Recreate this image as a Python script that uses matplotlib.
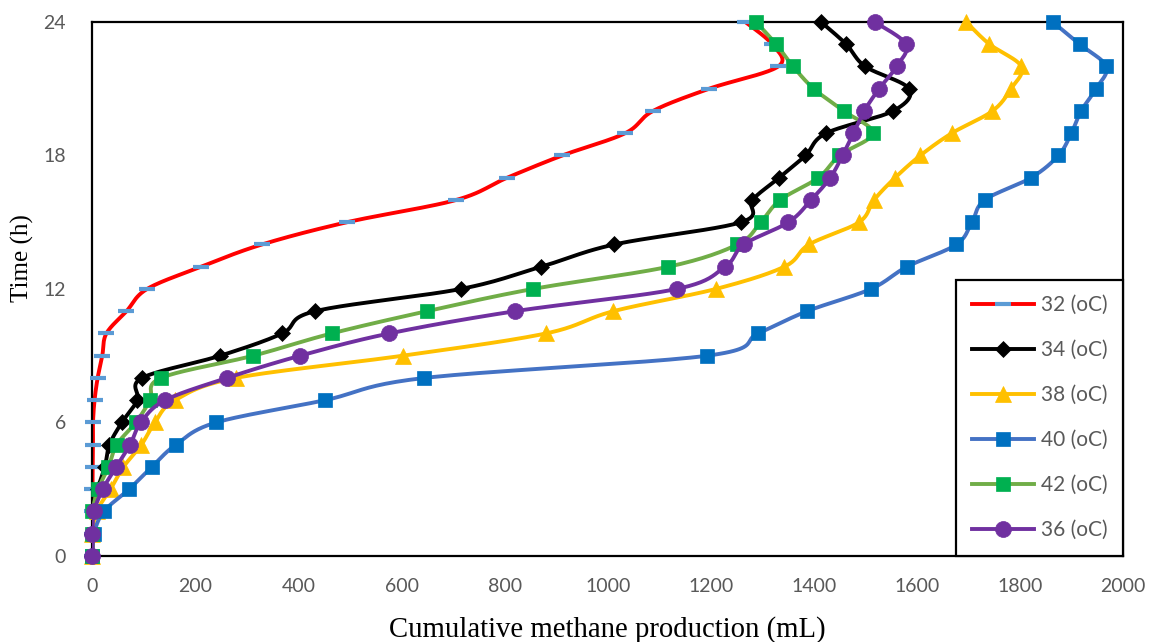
import numpy as np
import matplotlib
matplotlib.use("Agg")
from matplotlib import pyplot as plt
from matplotlib.lines import Line2D

# time points (h)
hours = list(range(25))

# cumulative methane production (mL) per temperature
ch4_32 = [0, 0, 0, 0, 0.5, 1, 1, 4, 10, 19, 27, 66, 106, 211, 329, 494,
          706, 805, 912, 1034, 1088, 1197, 1331, 1319, 1267]
ch4_34 = [0, 0, 2, 10, 24, 33, 57, 87, 96, 248, 368, 432, 715, 871, 1013, 1259,
          1281, 1333, 1384, 1424, 1554, 1585, 1500, 1463, 1414]
ch4_38 = [0, 0, 8, 35, 60, 95, 121, 160, 278, 602, 880, 1011, 1210, 1343, 1391, 1488,
          1517, 1558, 1607, 1668, 1747, 1783, 1803, 1741, 1696]
ch4_40 = [0, 3, 22, 71, 115, 162, 240, 451, 644, 1193, 1292, 1387, 1511, 1581, 1677, 1707,
          1732, 1822, 1875, 1900, 1919, 1948, 1968, 1916, 1864]
ch4_42 = [0, 0, 0, 11, 31, 47, 84, 112, 133, 312, 464, 649, 855, 1118, 1252, 1297,
          1335, 1409, 1450, 1515, 1458, 1400, 1360, 1327, 1288]
ch4_36 = [0, 0, 3, 20, 46, 73, 94, 141, 261, 403, 576, 820, 1134, 1228, 1264, 1351,
          1395, 1432, 1456, 1477, 1498, 1527, 1561, 1579, 1518]

labels = ["32 (oC)", "34 (oC)", "38 (oC)", "40 (oC)", "42 (oC)", "36 (oC)"]
series = [ch4_32, ch4_34, ch4_38, ch4_40, ch4_42, ch4_36]

styles = [
    dict(line="#FF0000", marker="_", mfc="#5B9BD5", mec="#5B9BD5", ms=11, mew=3),
    dict(line="#000000", marker="D", mfc="#000000", mec="#000000", ms=8, mew=0.5),
    dict(line="#FFC000", marker="^", mfc="#FFC000", mec="#FFC000", ms=11.5, mew=0.5),
    dict(line="#4472C4", marker="s", mfc="#0070C0", mec="#0070C0", ms=10.5, mew=0.5),
    dict(line="#70AD47", marker="s", mfc="#00B050", mec="#00B050", ms=10.5, mew=0.5),
    dict(line="#7030A0", marker="o", mfc="#7030A0", mec="#7030A0", ms=11.5, mew=0.5),
]


def smooth(xs, ys, n=24):
    # cubic bezier through the points, Catmull-Rom style tangents
    p = np.column_stack([xs, ys]).astype(float)
    out = [p[0]]
    t = np.linspace(0, 1, n)[1:, None]
    for i in range(len(p) - 1):
        p0 = p[i - 1] if i > 0 else p[i]
        p1, p2 = p[i], p[i + 1]
        p3 = p[i + 2] if i + 2 < len(p) else p[i + 1]
        b1 = p1 + (p2 - p0) / 6.0
        b2 = p2 - (p3 - p1) / 6.0
        seg = ((1 - t) ** 3) * p1 + 3 * ((1 - t) ** 2) * t * b1 \
            + 3 * (1 - t) * t ** 2 * b2 + t ** 3 * p2
        out.extend(seg)
    out = np.array(out)
    return out[:, 0], out[:, 1]


plt.rcParams["font.family"] = ["Lato", "DejaVu Sans"]

fig = plt.figure(figsize=(11.59, 6.42), dpi=100)
ax = fig.add_axes([0.0798, 0.134, 0.889, 0.8318])

handles = []
for k, (vals, lab, st) in enumerate(zip(series, labels, styles)):
    sx, sy = smooth(vals, hours)
    ax.plot(sx, sy, color=st["line"], lw=2.8,
            solid_capstyle="round", zorder=2 + 2 * k)
    ax.plot(vals, hours, ls="none", marker=st["marker"], ms=st["ms"],
            mfc=st["mfc"], mec=st["mec"], mew=st["mew"], clip_on=False,
            zorder=3 + 2 * k)
    handles.append(Line2D([], [], color=st["line"], lw=2.8, marker=st["marker"],
                          ms=st["ms"], mfc=st["mfc"], mec=st["mec"], mew=st["mew"]))

ax.set_xlim(0, 2000)
ax.set_ylim(0, 24)
ax.set_xticks(range(0, 2001, 200))
ax.set_yticks(range(0, 25, 6))
ax.tick_params(length=0, labelsize=14, labelcolor="#595959")
ax.tick_params(axis="x", pad=16)
ax.tick_params(axis="y", pad=19)
for s in ax.spines.values():
    s.set_linewidth(1.6)
    s.set_color("black")

ax.set_xlabel("Cumulative methane production (mL)", family="Liberation Serif",
              fontsize=20.7, labelpad=15)
ax.set_ylabel("Time (h)", family="Liberation Serif", fontsize=18)
ax.yaxis.set_label_coords(-0.057, 0.558)

leg = ax.legend(handles, labels, loc="lower right", bbox_to_anchor=(1, 0),
                borderaxespad=0, fontsize=15, labelcolor="#595959",
                handlelength=3.0, handletextpad=0.3, labelspacing=1.2,
                borderpad=0.75, fancybox=False, framealpha=1, edgecolor="black")
leg.get_frame().set_linewidth(1.6)
leg.set_zorder(20)

fig.savefig("out.png", dpi=100)
